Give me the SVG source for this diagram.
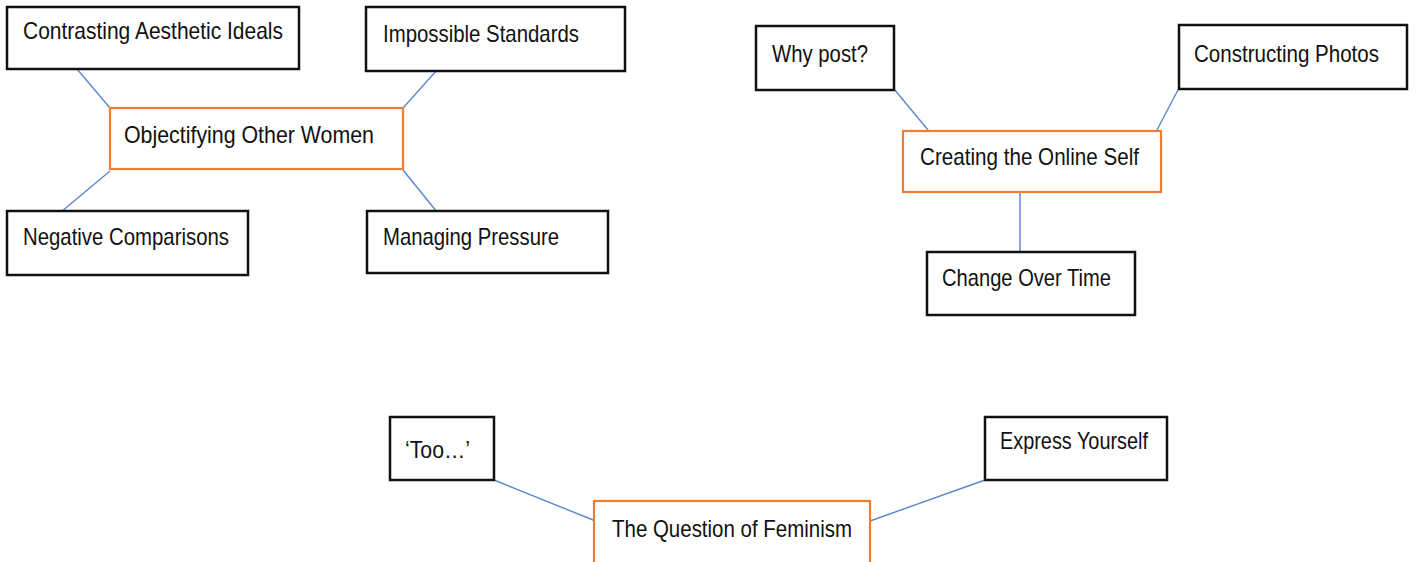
<svg xmlns="http://www.w3.org/2000/svg" width="1417" height="562" viewBox="0 0 1417 562">
<style>
.box{fill:#fff;stroke:#111;stroke-width:2.5}
.main{fill:#fff;stroke:#ED7D31;stroke-width:2.2}
.lbl{font-family:"Liberation Sans",Arial,sans-serif;font-size:24px;fill:#111}
.conn{stroke:#5B86D0;stroke-width:1.4;fill:none}
</style>
<rect width="1417" height="562" fill="#fff"/>
<g id="connectors">
<line class="conn" x1="77" y1="69" x2="110" y2="108"/>
<line class="conn" x1="110" y1="171" x2="61" y2="212"/>
<line class="conn" x1="437" y1="70" x2="403" y2="108"/>
<line class="conn" x1="403" y1="170" x2="437" y2="212"/>
<line class="conn" x1="894" y1="89" x2="928" y2="130"/>
<line class="conn" x1="1179" y1="88" x2="1157" y2="130"/>
<line class="conn" x1="1020" y1="192" x2="1020" y2="252"/>
<line class="conn" x1="494" y1="480" x2="598" y2="522"/>
<line class="conn" x1="985" y1="480" x2="870" y2="521"/>
</g>
<g id="contrasting">
<rect class="box" x="7" y="7" width="292" height="62"/>
<text class="lbl" x="23" y="39" textLength="260" lengthAdjust="spacingAndGlyphs">Contrasting Aesthetic Ideals</text>
</g>
<g id="objectifying">
<rect class="main" x="110" y="108" width="293" height="61"/>
<text class="lbl" x="124" y="143" textLength="250" lengthAdjust="spacingAndGlyphs">Objectifying Other Women</text>
</g>
<g id="impossible">
<rect class="box" x="366" y="7" width="259" height="64"/>
<text class="lbl" x="383" y="42" textLength="196" lengthAdjust="spacingAndGlyphs">Impossible Standards</text>
</g>
<g id="negative">
<rect class="box" x="7" y="211" width="241" height="64"/>
<text class="lbl" x="23" y="245" textLength="206" lengthAdjust="spacingAndGlyphs">Negative Comparisons</text>
</g>
<g id="managing">
<rect class="box" x="367" y="211" width="241" height="62"/>
<text class="lbl" x="383" y="245" textLength="176" lengthAdjust="spacingAndGlyphs">Managing Pressure</text>
</g>
<g id="whypost">
<rect class="box" x="756" y="26" width="138" height="64"/>
<text class="lbl" x="772" y="62" textLength="96" lengthAdjust="spacingAndGlyphs">Why post?</text>
</g>
<g id="constructing">
<rect class="box" x="1179" y="25" width="228" height="64"/>
<text class="lbl" x="1194" y="62" textLength="185" lengthAdjust="spacingAndGlyphs">Constructing Photos</text>
</g>
<g id="creating">
<rect class="main" x="903" y="131" width="258" height="61"/>
<text class="lbl" x="920" y="165" textLength="219" lengthAdjust="spacingAndGlyphs">Creating the Online Self</text>
</g>
<g id="change">
<rect class="box" x="927" y="252" width="208" height="63"/>
<text class="lbl" x="942" y="286" textLength="169" lengthAdjust="spacingAndGlyphs">Change Over Time</text>
</g>
<g id="too">
<rect class="box" x="390" y="417" width="104" height="63"/>
<text class="lbl" x="405" y="458" textLength="65" lengthAdjust="spacingAndGlyphs">‘Too…’</text>
</g>
<g id="express">
<rect class="box" x="985" y="417" width="182" height="63"/>
<text class="lbl" x="1000" y="449" textLength="148" lengthAdjust="spacingAndGlyphs">Express Yourself</text>
</g>
<g id="feminism">
<rect class="main" x="594" y="501" width="276" height="100"/>
<text class="lbl" x="612" y="537" textLength="240" lengthAdjust="spacingAndGlyphs">The Question of Feminism</text>
</g>
</svg>
